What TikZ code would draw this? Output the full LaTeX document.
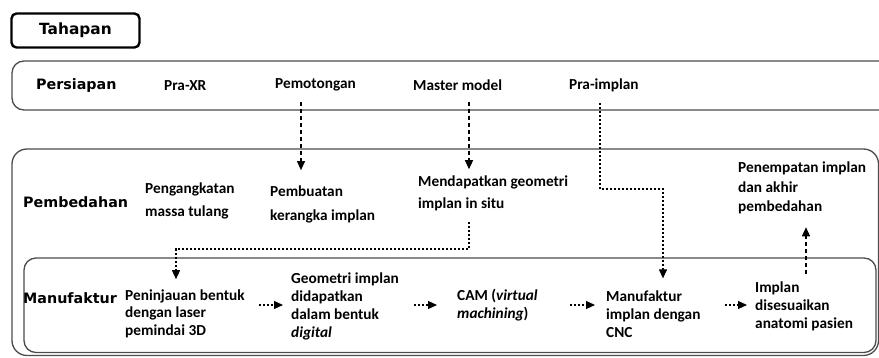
\documentclass[tikz,border=0pt]{standalone}
\usepackage{fontspec}
\setmainfont{Carlito}
\newfontfamily\headfont{DejaVu Sans}
\usetikzlibrary{arrows.meta,
                positioning
            }

\tikzset{
    frame/.style={draw=black!70, line width=1.3pt, rounded corners=12pt},
    phase/.style={anchor=west, inner sep=0pt, font=\headfont\bfseries\fontsize{14.3}{17}\selectfont},
    steptext/.style={anchor=west, inner sep=0pt, align=left, font=\bfseries\fontsize{15.3}{18}\selectfont},
    linegap/.style={font=\bfseries\fontsize{15.3}{#1}\selectfont},
    flow/.style={line width=1.1pt, dash pattern=on 4pt off 3pt, -{Triangle[length=9pt,width=8pt]}},
    dotflow/.style={flow, dash pattern=on 2pt off 2pt}
}

\begin{document}
\begin{tikzpicture}[x=1pt,y=-1pt]
                \useasboundingbox (0,0) rectangle (879,358);

                % Heading box
                \node (tahapan) [draw, line width=2.4pt, rounded corners=5pt, minimum width=128pt, minimum height=34pt,
                                 font=\headfont\bfseries\fontsize{15.4}{17}\selectfont] at (75.5,30.5) {Tahapan};

                % Stage frames
                \draw [frame] (12,61) rectangle (895,110);
                \draw [frame, rounded corners=15pt] (12,149) rectangle (878.5,355.5);
                \draw [frame] (24,258) rectangle (876,352.5);

                % Persiapan row
                \node (persiapan) [phase] at (36,86) {Persiapan};
                \node (praxr) [steptext] at (164,86) {Pra-XR};
                \node (pemotongan) [steptext] at (275,85) {Pemotongan};
                \node (mastermodel) [steptext] at (413,85) {Master model};
                \node (praimplan) [steptext] at (569,85) {Pra-implan};

                % Pembedahan row
                \node (pembedahan) [phase] at (23,202) {Pembedahan};
                \node (pengangkatan) [steptext, linegap=23] at (145,200.5) {Pengangkatan\\massa tulang};
                \node (pembuatan) [steptext, linegap=24] at (270,204) {Pembuatan\\kerangka implan};
                \node (mendapatkan) [steptext, linegap=22] at (418,193) {Mendapatkan geometri\\implan in situ};
                \node (penempatan) [steptext, linegap=19.5] at (738,188) {Penempatan implan\\dan akhir\\pembedahan};

                % Manufaktur row
                \node (manufaktur) [phase] at (23,298) {Manufaktur};
                \node (peninjauan) [steptext, linegap=17.5] at (125,313.5) {Peninjauan bentuk\\dengan laser\\pemindai 3D};
                \node (geometri) [steptext] at (291,306) {Geometri implan\\didapatkan\\dalam bentuk\\\textit{digital}};
                \node (cam) [steptext] at (457,305) {CAM (\textit{virtual}\\\textit{machining})};
                \node (cnc) [steptext] at (606,314) {Manufaktur\\implan dengan\\CNC};
                \node (implan) [steptext] at (755,306) {Implan\\disesuaikan\\anatomi pasien};

                % Columns and turns of the connectors
                \coordinate (cutx) at (301,0);
                \coordinate (modelx) at (469,0);
                \coordinate (implx) at (600,0);
                \coordinate (placex) at (806,0);
                \coordinate (implturn) at (663,189);
                \coordinate (scanturn) at (176,249);

                % Connectors
                \draw [flow, shorten <=11pt, shorten >=15pt] (pemotongan.south -| cutx) -- (pembuatan.north -| cutx);
                \draw [flow, shorten <=11pt, shorten >=6pt] (mastermodel.south -| modelx) -- (mendapatkan.north -| modelx);
                \draw [dotflow, shorten <=11pt, shorten >=12pt] (praimplan.south -| implx) |- (implturn) -- (cnc.north -| implturn);
                \draw [dotflow, shorten <=11pt, shorten >=10pt] (mendapatkan.south -| modelx) |- (scanturn) -- (peninjauan.north -| scanturn);
                \draw [flow, shorten <=7pt, shorten >=13pt] (implan.north -| placex) -- (penempatan.south -| placex);

                \draw [dotflow, shorten <=14pt, shorten >=8pt] (peninjauan.east |- cam) -- (geometri.west |- cam);
                \draw [dotflow, shorten <=15pt, shorten >=20pt] (geometri.east |- cam) -- (cam.west);
                \draw [dotflow, shorten <=32pt, shorten >=11pt] (cam.east) -- (cnc.west |- cam);
                \draw [dotflow, shorten <=24pt, shorten >=8pt] (cnc.east |- cam) -- (implan.west |- cam);
            \end{tikzpicture}
\end{document}
